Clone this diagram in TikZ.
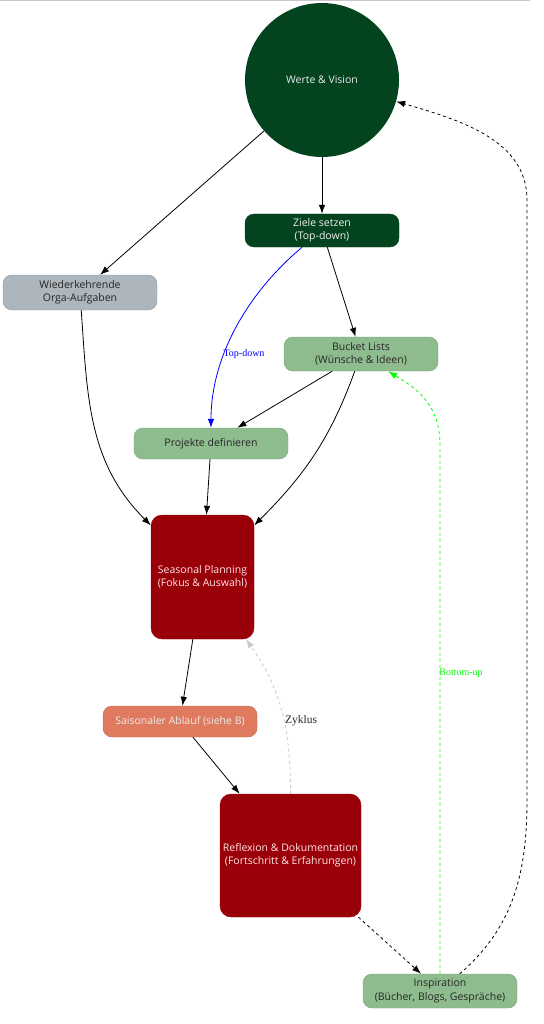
\documentclass[tikz,border=0pt]{standalone}
\usepackage{fontspec}
\setmainfont{Open Sans}
\newfontfamily\labelfont{Liberation Serif}
\usetikzlibrary{arrows.meta}

\definecolor{darkgreen}{HTML}{03441F}
\definecolor{sagegreen}{HTML}{8FBC8F}
\definecolor{slategray}{HTML}{ADB5BD}
\definecolor{darkred}{HTML}{9A0008}
\definecolor{salmon}{HTML}{E07A5F}
\definecolor{lightline}{HTML}{C8C8C8}
\definecolor{brightgreen}{HTML}{00FF00}

\tikzset{
  box/.style={rectangle, rounded corners=9pt, minimum width=154pt, minimum height=33pt,
    inner sep=2pt, align=center, font=\fontsize{10.5}{13.4}\selectfont},
  bigbox/.style={box, rounded corners=11pt},
  arr/.style={-{Latex[length=9pt,width=6.5pt]}, line width=0.8pt},
  edgelabel/.style={font=\labelfont\fontsize{10}{12}\selectfont}
}

\begin{document}
\begin{tikzpicture} [x=1pt, y=-1pt]

\useasboundingbox (0,0) rectangle (543,1024);
\draw [lightline, line width=1pt] (0,0.5) -- (530,0.5);

% nodes
\node [circle, fill=darkgreen, minimum size=154pt, text=white!92!black,
  font=\fontsize{10.5}{13.4}\selectfont] (werte) at (322,80) {Werte \& Vision};
\node [box, fill=darkgreen, draw=darkgreen, text=white!94!black] (ziele) at (322,230.5) {Ziele setzen\\(Top-down)};
\node [box, fill=slategray, draw=slategray!85!black, minimum height=35pt, text=black!85] (orga) at (80,292.5) {Wiederkehrende\\Orga-Aufgaben};
\node [box, fill=sagegreen, draw=sagegreen!85!black, minimum height=34pt, text=black!85] (bucket) at (361,354) {Bucket Lists\\(Wünsche \& Ideen)};
\node [box, fill=sagegreen, draw=sagegreen!85!black, minimum height=31pt, text=black!85] (projekte) at (211,443.5) {Projekte definieren};
\node [bigbox, fill=darkred, draw=darkred, minimum width=103pt, minimum height=124pt, text=white!90!red] (seasonal) at (202.5,577) {Seasonal Planning\\(Fokus \& Auswahl)};
\node [box, fill=salmon, draw=salmon!85!black, minimum height=31pt, text=white!92!black] (ablauf) at (180,721.5) {Saisonaler Ablauf (siehe B)};
\node [bigbox, fill=darkred, draw=darkred, minimum width=141pt, minimum height=123pt, text=white!90!red] (reflexion) at (290.5,855.5) {Reflexion \& Dokumentation\\(Fortschritt \& Erfahrungen)};
\node [box, fill=sagegreen, draw=sagegreen!85!black, minimum height=34pt, text=black!85] (inspiration) at (440,991) {Inspiration\\(Bücher, Blogs, Gespräche)};

% helper points
\coordinate (greenbend) at (440,445);
\coordinate (rightlow) at (527,800);
\coordinate (righthigh) at (527,200);

% edges
\draw [arr] (werte) -- (orga);
\draw [arr] (werte) -- (ziele);
\draw [arr] (ziele) -- (bucket);
\draw [arr, blue] (ziele) to [out=-140, in=90, looseness=0.9] (projekte);
\draw [arr] (orga) to [out=-86, in=135] (seasonal);
\draw [arr] (bucket) -- (projekte);
\draw [arr] (bucket) to [out=-110, in=45] (seasonal);
\draw [arr] (projekte) -- (seasonal);
\draw [arr] (seasonal) -- (ablauf);
\draw [arr] (ablauf) -- (reflexion);
\draw [arr, lightline, dashed] (reflexion) to [out=90, in=-55] (seasonal);
\draw [arr, dashed] (reflexion) -- (inspiration);
\draw [arr, brightgreen, dashed] (inspiration) -- (greenbend) .. controls (440,400) and (410,385) .. (bucket);
\draw [arr, dashed] (inspiration) .. controls (510,930) and (527,880) .. (rightlow) -- (righthigh) .. controls (527,140) and (460,120) .. (werte);

% labels
\node [edgelabel, text=blue] (toplabel) at (244,354) {Top-down};
\node [edgelabel, font=\labelfont\fontsize{11.5}{13}\selectfont, text=black!85] (zykluslabel) at (301,721) {Zyklus};
\node [edgelabel, text=brightgreen] (bottomlabel) at (461,673) {Bottom-up};

\end{tikzpicture}
\end{document}
